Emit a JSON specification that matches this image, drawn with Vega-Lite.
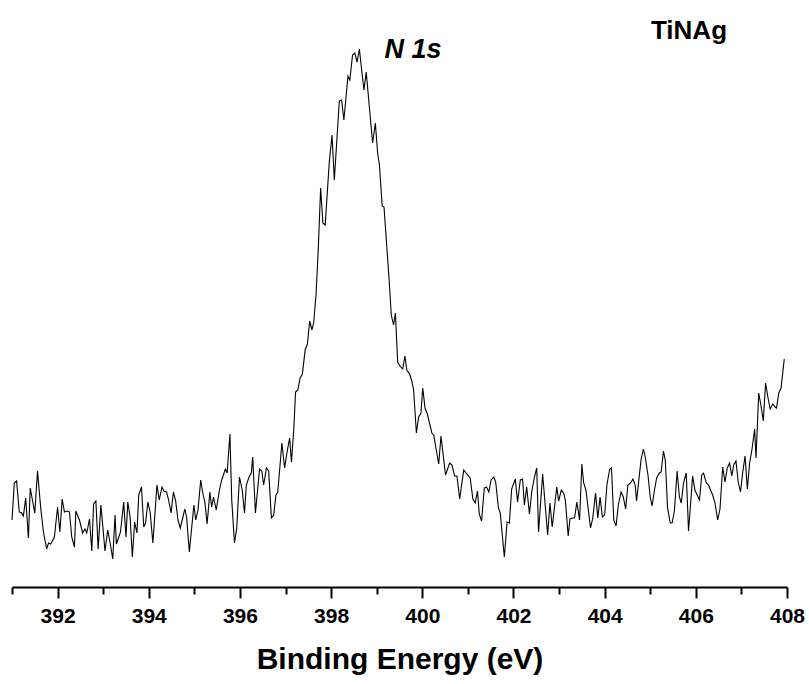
{
  "$schema": "https://vega.github.io/schema/vega-lite/v6.json",
  "width": 775,
  "height": 577,
  "autosize": {"type": "none"},
  "padding": {"left": 12, "top": 10, "right": 22, "bottom": 97},
  "background": "white",
  "config": {"view": {"stroke": null}},
  "datasets": {
    "spectrum": [
      {"be": 391.00, "counts": 67}, {"be": 391.05, "counts": 104}, {"be": 391.10, "counts": 106}, {"be": 391.16, "counts": 75},
      {"be": 391.21, "counts": 74}, {"be": 391.25, "counts": 71}, {"be": 391.30, "counts": 89}, {"be": 391.36, "counts": 49},
      {"be": 391.40, "counts": 99}, {"be": 391.50, "counts": 74}, {"be": 391.56, "counts": 116}, {"be": 391.63, "counts": 79},
      {"be": 391.69, "counts": 55}, {"be": 391.76, "counts": 38}, {"be": 391.80, "counts": 44}, {"be": 391.85, "counts": 43},
      {"be": 391.93, "counts": 50}, {"be": 392.00, "counts": 80}, {"be": 392.05, "counts": 55}, {"be": 392.10, "counts": 88},
      {"be": 392.15, "counts": 75}, {"be": 392.22, "counts": 76}, {"be": 392.26, "counts": 75}, {"be": 392.31, "counts": 50},
      {"be": 392.37, "counts": 40}, {"be": 392.40, "counts": 76}, {"be": 392.48, "counts": 67}, {"be": 392.55, "counts": 54},
      {"be": 392.60, "counts": 58}, {"be": 392.64, "counts": 54}, {"be": 392.70, "counts": 68}, {"be": 392.75, "counts": 36},
      {"be": 392.79, "counts": 83}, {"be": 392.84, "counts": 86}, {"be": 392.89, "counts": 38}, {"be": 392.95, "counts": 82},
      {"be": 393.04, "counts": 36}, {"be": 393.10, "counts": 57}, {"be": 393.16, "counts": 42}, {"be": 393.21, "counts": 28},
      {"be": 393.26, "counts": 72}, {"be": 393.29, "counts": 43}, {"be": 393.38, "counts": 55}, {"be": 393.45, "counts": 85},
      {"be": 393.50, "counts": 50}, {"be": 393.54, "counts": 85}, {"be": 393.59, "counts": 70}, {"be": 393.64, "counts": 30},
      {"be": 393.69, "counts": 65}, {"be": 393.74, "counts": 54}, {"be": 393.78, "counts": 92}, {"be": 393.84, "counts": 100},
      {"be": 393.89, "counts": 60}, {"be": 393.93, "counts": 64}, {"be": 393.98, "counts": 85}, {"be": 394.03, "counts": 75},
      {"be": 394.09, "counts": 44}, {"be": 394.18, "counts": 102}, {"be": 394.23, "counts": 87}, {"be": 394.29, "counts": 100},
      {"be": 394.33, "counts": 96}, {"be": 394.39, "counts": 95}, {"be": 394.43, "counts": 88}, {"be": 394.49, "counts": 74},
      {"be": 394.54, "counts": 95}, {"be": 394.59, "counts": 86}, {"be": 394.64, "counts": 67}, {"be": 394.69, "counts": 59},
      {"be": 394.75, "counts": 70}, {"be": 394.79, "counts": 78}, {"be": 394.83, "counts": 70}, {"be": 394.89, "counts": 35},
      {"be": 394.93, "counts": 54}, {"be": 394.99, "counts": 82}, {"be": 395.03, "counts": 67}, {"be": 395.08, "counts": 77},
      {"be": 395.14, "counts": 107}, {"be": 395.18, "counts": 95}, {"be": 395.23, "counts": 85}, {"be": 395.28, "counts": 63},
      {"be": 395.34, "counts": 95}, {"be": 395.38, "counts": 80}, {"be": 395.42, "counts": 90}, {"be": 395.48, "counts": 77},
      {"be": 395.55, "counts": 97}, {"be": 395.60, "counts": 107}, {"be": 395.68, "counts": 118}, {"be": 395.72, "counts": 114},
      {"be": 395.78, "counts": 153}, {"be": 395.82, "counts": 87}, {"be": 395.88, "counts": 44}, {"be": 395.93, "counts": 59},
      {"be": 395.99, "counts": 110}, {"be": 396.05, "counts": 97}, {"be": 396.10, "counts": 74}, {"be": 396.14, "counts": 102},
      {"be": 396.20, "counts": 110}, {"be": 396.25, "counts": 114}, {"be": 396.28, "counts": 130}, {"be": 396.34, "counts": 74},
      {"be": 396.43, "counts": 118}, {"be": 396.48, "counts": 116}, {"be": 396.52, "counts": 102}, {"be": 396.58, "counts": 119},
      {"be": 396.63, "counts": 116}, {"be": 396.69, "counts": 69}, {"be": 396.74, "counts": 72}, {"be": 396.79, "counts": 92},
      {"be": 396.83, "counts": 95}, {"be": 396.92, "counts": 144}, {"be": 396.98, "counts": 119}, {"be": 397.03, "counts": 134},
      {"be": 397.09, "counts": 149}, {"be": 397.13, "counts": 125}, {"be": 397.18, "counts": 157}, {"be": 397.22, "counts": 195},
      {"be": 397.27, "counts": 197}, {"be": 397.32, "counts": 209}, {"be": 397.37, "counts": 213}, {"be": 397.43, "counts": 237},
      {"be": 397.48, "counts": 243}, {"be": 397.53, "counts": 266}, {"be": 397.58, "counts": 257}, {"be": 397.62, "counts": 265},
      {"be": 397.67, "counts": 293}, {"be": 397.72, "counts": 340}, {"be": 397.77, "counts": 399}, {"be": 397.82, "counts": 364},
      {"be": 397.87, "counts": 362}, {"be": 397.96, "counts": 425}, {"be": 398.02, "counts": 452}, {"be": 398.07, "counts": 407},
      {"be": 398.18, "counts": 486}, {"be": 398.23, "counts": 487}, {"be": 398.28, "counts": 467}, {"be": 398.37, "counts": 511},
      {"be": 398.41, "counts": 507}, {"be": 398.47, "counts": 532}, {"be": 398.52, "counts": 534}, {"be": 398.57, "counts": 525},
      {"be": 398.62, "counts": 538}, {"be": 398.67, "counts": 517}, {"be": 398.72, "counts": 497}, {"be": 398.77, "counts": 515},
      {"be": 398.91, "counts": 444}, {"be": 398.97, "counts": 464}, {"be": 399.02, "counts": 434}, {"be": 399.06, "counts": 422},
      {"be": 399.12, "counts": 381}, {"be": 399.16, "counts": 380}, {"be": 399.27, "counts": 309}, {"be": 399.32, "counts": 272},
      {"be": 399.37, "counts": 262}, {"be": 399.41, "counts": 274}, {"be": 399.46, "counts": 225}, {"be": 399.51, "counts": 221},
      {"be": 399.57, "counts": 218}, {"be": 399.62, "counts": 231}, {"be": 399.66, "counts": 217}, {"be": 399.72, "counts": 213},
      {"be": 399.77, "counts": 206}, {"be": 399.81, "counts": 197}, {"be": 399.87, "counts": 154}, {"be": 399.92, "counts": 170},
      {"be": 399.97, "counts": 174}, {"be": 400.01, "counts": 199}, {"be": 400.06, "counts": 179}, {"be": 400.11, "counts": 173},
      {"be": 400.21, "counts": 154}, {"be": 400.25, "counts": 152}, {"be": 400.36, "counts": 123}, {"be": 400.41, "counts": 151},
      {"be": 400.51, "counts": 112}, {"be": 400.60, "counts": 124}, {"be": 400.65, "counts": 122}, {"be": 400.71, "counts": 111},
      {"be": 400.76, "counts": 111}, {"be": 400.82, "counts": 88}, {"be": 400.91, "counts": 117}, {"be": 400.96, "counts": 114},
      {"be": 401.05, "counts": 109}, {"be": 401.11, "counts": 88}, {"be": 401.16, "counts": 84}, {"be": 401.21, "counts": 96},
      {"be": 401.25, "counts": 73}, {"be": 401.30, "counts": 66}, {"be": 401.36, "counts": 99}, {"be": 401.41, "counts": 100},
      {"be": 401.46, "counts": 95}, {"be": 401.51, "counts": 107}, {"be": 401.57, "counts": 110}, {"be": 401.61, "counts": 105},
      {"be": 401.67, "counts": 79}, {"be": 401.71, "counts": 74}, {"be": 401.80, "counts": 30}, {"be": 401.86, "counts": 65},
      {"be": 401.91, "counts": 64}, {"be": 401.96, "counts": 98}, {"be": 402.04, "counts": 108}, {"be": 402.09, "counts": 85},
      {"be": 402.15, "counts": 107}, {"be": 402.20, "counts": 108}, {"be": 402.24, "counts": 82}, {"be": 402.29, "counts": 100},
      {"be": 402.35, "counts": 73}, {"be": 402.40, "counts": 95}, {"be": 402.46, "counts": 110}, {"be": 402.51, "counts": 119},
      {"be": 402.55, "counts": 55}, {"be": 402.64, "counts": 113}, {"be": 402.75, "counts": 52}, {"be": 402.80, "counts": 84},
      {"be": 402.85, "counts": 60}, {"be": 402.95, "counts": 100}, {"be": 402.99, "counts": 86}, {"be": 403.05, "counts": 97},
      {"be": 403.10, "counts": 94}, {"be": 403.14, "counts": 86}, {"be": 403.20, "counts": 51}, {"be": 403.24, "counts": 68},
      {"be": 403.30, "counts": 69}, {"be": 403.34, "counts": 69}, {"be": 403.39, "counts": 85}, {"be": 403.45, "counts": 67},
      {"be": 403.50, "counts": 123}, {"be": 403.54, "counts": 104}, {"be": 403.59, "counts": 97}, {"be": 403.69, "counts": 59},
      {"be": 403.74, "counts": 69}, {"be": 403.80, "counts": 94}, {"be": 403.85, "counts": 69}, {"be": 403.90, "counts": 90},
      {"be": 403.95, "counts": 70}, {"be": 404.00, "counts": 72}, {"be": 404.05, "counts": 102}, {"be": 404.11, "counts": 118},
      {"be": 404.15, "counts": 119}, {"be": 404.20, "counts": 67}, {"be": 404.25, "counts": 61}, {"be": 404.30, "counts": 82},
      {"be": 404.36, "counts": 95}, {"be": 404.41, "counts": 90}, {"be": 404.46, "counts": 78}, {"be": 404.51, "counts": 102},
      {"be": 404.57, "counts": 104}, {"be": 404.62, "counts": 108}, {"be": 404.67, "counts": 102}, {"be": 404.70, "counts": 86},
      {"be": 404.75, "counts": 107}, {"be": 404.80, "counts": 128}, {"be": 404.85, "counts": 138}, {"be": 404.89, "counts": 130},
      {"be": 404.95, "counts": 112}, {"be": 405.00, "counts": 90}, {"be": 405.04, "counts": 81}, {"be": 405.09, "counts": 96},
      {"be": 405.14, "counts": 109}, {"be": 405.20, "counts": 114}, {"be": 405.24, "counts": 115}, {"be": 405.29, "counts": 136},
      {"be": 405.33, "counts": 127}, {"be": 405.38, "counts": 79}, {"be": 405.44, "counts": 64}, {"be": 405.48, "counts": 64},
      {"be": 405.53, "counts": 76}, {"be": 405.59, "counts": 116}, {"be": 405.64, "counts": 90}, {"be": 405.68, "counts": 84},
      {"be": 405.73, "counts": 104}, {"be": 405.79, "counts": 114}, {"be": 405.84, "counts": 56}, {"be": 405.88, "counts": 80},
      {"be": 405.93, "counts": 111}, {"be": 405.98, "counts": 97}, {"be": 406.03, "counts": 92}, {"be": 406.08, "counts": 87},
      {"be": 406.13, "counts": 112}, {"be": 406.17, "counts": 114}, {"be": 406.23, "counts": 104}, {"be": 406.28, "counts": 102},
      {"be": 406.32, "counts": 97}, {"be": 406.37, "counts": 92}, {"be": 406.42, "counts": 84}, {"be": 406.48, "counts": 67},
      {"be": 406.53, "counts": 78}, {"be": 406.59, "counts": 120}, {"be": 406.64, "counts": 105}, {"be": 406.69, "counts": 119},
      {"be": 406.74, "counts": 124}, {"be": 406.79, "counts": 111}, {"be": 406.83, "counts": 122}, {"be": 406.88, "counts": 126},
      {"be": 406.93, "counts": 105}, {"be": 406.98, "counts": 95}, {"be": 407.03, "counts": 115}, {"be": 407.08, "counts": 131},
      {"be": 407.13, "counts": 98}, {"be": 407.18, "counts": 124}, {"be": 407.23, "counts": 137}, {"be": 407.29, "counts": 158},
      {"be": 407.32, "counts": 129}, {"be": 407.38, "counts": 194}, {"be": 407.43, "counts": 181}, {"be": 407.48, "counts": 166},
      {"be": 407.53, "counts": 204}, {"be": 407.58, "counts": 190}, {"be": 407.63, "counts": 178}, {"be": 407.69, "counts": 183},
      {"be": 407.74, "counts": 180}, {"be": 407.77, "counts": 179}, {"be": 407.82, "counts": 194}, {"be": 407.87, "counts": 199},
      {"be": 407.94, "counts": 228}
    ],
    "peak": [{"be": 399.3, "counts": 537, "label": "N 1s"}],
    "sample": [{"be": 405.85, "counts": 556, "label": "TiNAg"}]
  },
  "layer": [
    {
      "data": {"name": "spectrum"},
      "mark": {"type": "line", "color": "black", "strokeWidth": 1.1, "interpolate": "linear"},
      "encoding": {
        "x": {
          "field": "be", "type": "quantitative",
          "scale": {"domain": [391, 408], "nice": false, "zero": false},
          "axis": {
            "title": "Binding Energy (eV)",
            "values": [391, 392, 393, 394, 395, 396, 397, 398, 399, 400, 401, 402, 403, 404, 405, 406, 407, 408],
            "labelExpr": "datum.value % 2 === 0 ? datum.label : ''",
            "grid": false,
            "domainColor": "black", "domainWidth": 2,
            "tickColor": "black", "tickWidth": 2,
            "tickSize": {"condition": {"test": "datum.value % 2 !== 0", "value": 7}, "value": 11},
            "labelFont": "Liberation Sans", "labelFontSize": 21, "labelFontWeight": "bold", "labelColor": "black",
            "labelPadding": 7, "labelFlush": false, "labelOverlap": false,
            "titleFont": "Liberation Sans", "titleFontSize": 30, "titleFontWeight": "bold", "titleColor": "black",
            "titlePadding": 18
          }
        },
        "y": {
          "field": "counts", "type": "quantitative",
          "scale": {"domain": [0, 577], "nice": false, "zero": false},
          "axis": null
        }
      }
    },
    {
      "data": {"name": "peak"},
      "mark": {"type": "text", "font": "Liberation Sans", "fontSize": 27, "fontWeight": "bold", "fontStyle": "italic", "color": "black", "baseline": "middle", "align": "left", "dx": -6},
      "encoding": {
        "x": {"field": "be", "type": "quantitative"},
        "y": {"field": "counts", "type": "quantitative"},
        "text": {"field": "label"}
      }
    },
    {
      "data": {"name": "sample"},
      "mark": {"type": "text", "font": "Liberation Sans", "fontSize": 26, "fontWeight": "bold", "color": "black", "baseline": "middle", "align": "center"},
      "encoding": {
        "x": {"field": "be", "type": "quantitative"},
        "y": {"field": "counts", "type": "quantitative"},
        "text": {"field": "label"}
      }
    }
  ]
}
